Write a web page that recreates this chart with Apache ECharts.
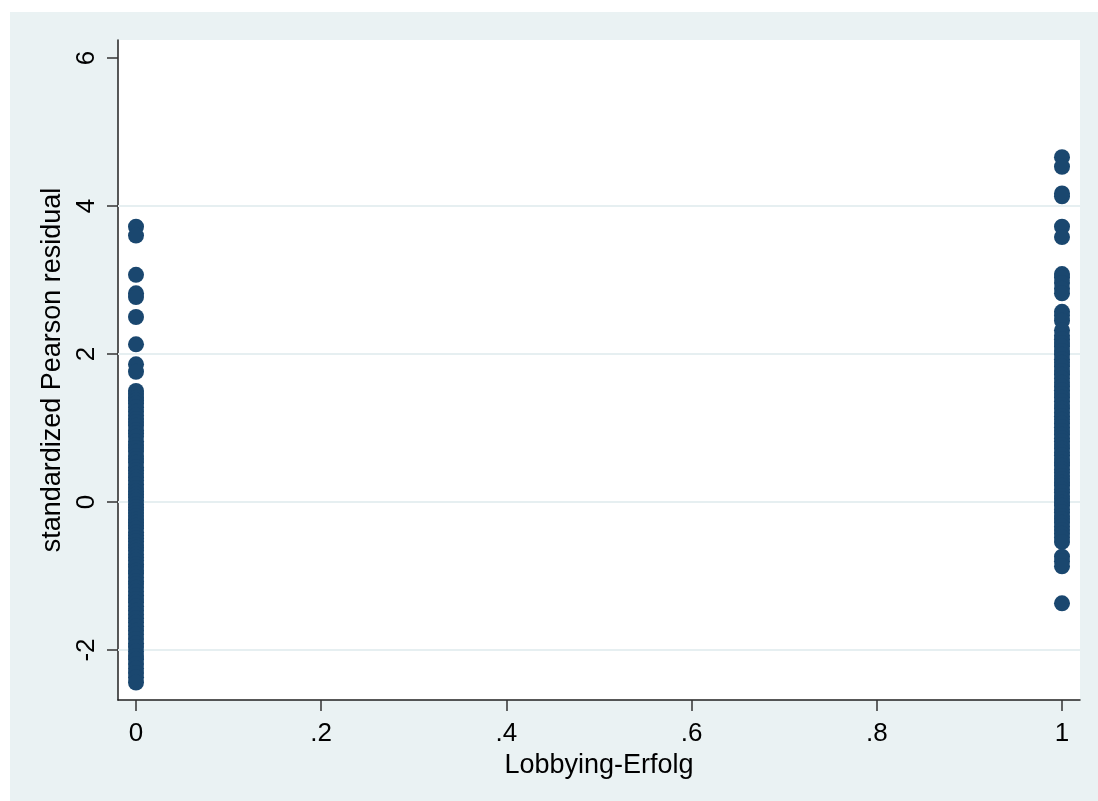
<!DOCTYPE html>
<html>
<head>
<meta charset="utf-8">
<script src="https://cdn.jsdelivr.net/npm/echarts@6/dist/echarts.min.js"></script>
<style>
html,body{margin:0;padding:0;background:#fff;width:1098px;height:801px;overflow:hidden;}
#chart{position:absolute;left:10px;top:12px;width:1088px;height:789px;}
</style>
</head>
<body>
<div id="chart"></div>
<script>
// Lobbying-Erfolg = 0
const residualsAt0 = [3.72, 3.60, 3.07, 2.82, 2.77, 2.50, 2.13, 1.86, 1.76,
  1.50, 1.46, 1.41, 1.37, 1.33, 1.28, 1.22, 1.17, 1.12, 1.08, 1.03, 0.97, 0.93, 0.88, 0.82, 0.77,
  0.73, 0.68, 0.62, 0.58, 0.53, 0.47, 0.43, 0.38, 0.33, 0.29, 0.24, 0.19, 0.14, 0.10, 0.06, 0.02,
  -0.03, -0.07, -0.11, -0.15, -0.19, -0.24, -0.28, -0.32, -0.36, -0.41, -0.45, -0.49, -0.53, -0.58,
  -0.62, -0.66, -0.71, -0.75, -0.79, -0.84, -0.88, -0.93, -0.97, -1.02, -1.07, -1.11, -1.16, -1.21,
  -1.26, -1.31, -1.36, -1.41, -1.47, -1.52, -1.57, -1.63, -1.68, -1.74, -1.79, -1.85, -1.91, -1.96,
  -2.02, -2.08, -2.13, -2.19, -2.25, -2.31, -2.37, -2.44];
// Lobbying-Erfolg = 1
const residualsAt1 = [4.66, 4.53, 4.17, 4.13, 3.72, 3.58, 3.08, 3.03, 2.96, 2.88, 2.82, 2.57, 2.52, 2.45, 2.32,
  2.25, 2.20, 2.15, 2.10, 2.04, 1.99, 1.93, 1.88, 1.83, 1.77, 1.72, 1.67, 1.61, 1.56, 1.51, 1.46,
  1.41, 1.36, 1.31, 1.26, 1.21, 1.16, 1.11, 1.06, 1.01, 0.96, 0.91, 0.86, 0.82, 0.77, 0.72, 0.67,
  0.63, 0.58, 0.53, 0.49, 0.44, 0.40, 0.35, 0.31, 0.26, 0.22, 0.17, 0.13, 0.08, 0.04, -0.01, -0.05,
  -0.10, -0.14, -0.19, -0.23, -0.28, -0.33, -0.38, -0.43, -0.48, -0.54, -0.74, -0.80, -0.87, -1.37];
const xTicks = [0, 0.2, 0.4, 0.6, 0.8, 1];
const xTickLabels = ['0', '.2', '.4', '.6', '.8', '1'];
const yTicks = [-2, 0, 2, 4, 6];
const yGridLines = [-2, 0, 2, 4];

const font = 'Liberation Sans, Arial, sans-serif';
const chart = echarts.init(document.getElementById('chart'));
const pts = [];
residualsAt0.forEach(v => pts.push([0, v]));
residualsAt1.forEach(v => pts.push([1, v]));

chart.setOption({
  backgroundColor: '#EAF2F3',
  animation: false,
  grid: {left: 108, top: 28, right: 18, bottom: 101, show: true, backgroundColor: '#ffffff', borderWidth: 0},
  xAxis: {
    type: 'value', min: -0.01944, max: 1.01944,
    name: 'Lobbying-Erfolg', nameLocation: 'middle', nameGap: 52,
    nameTextStyle: {fontFamily: font, fontSize: 27, color: '#000'},
    axisLine: {show: true, onZero: false, lineStyle: {color: '#222', width: 1.5}},
    axisTick: {show: true, length: 11, customValues: xTicks, lineStyle: {color: '#333', width: 1.5}},
    axisLabel: {customValues: xTicks, margin: 21, fontFamily: font, fontSize: 26, color: '#000',
      formatter: v => { const i = xTicks.findIndex(t => Math.abs(t - v) < 1e-9); return i >= 0 ? xTickLabels[i] : ''; }},
    splitLine: {show: false}
  },
  yAxis: {
    type: 'value', min: -2.676, max: 6.243,
    name: 'standardized Pearson residual', nameLocation: 'middle', nameGap: 46, nameRotate: 90,
    nameTextStyle: {fontFamily: font, fontSize: 27, color: '#000'},
    axisLine: {show: true, onZero: false, lineStyle: {color: '#222', width: 1.5}},
    axisTick: {show: true, length: 11, customValues: yTicks, lineStyle: {color: '#333', width: 1.5}},
    axisLabel: {customValues: yTicks, rotate: 90, margin: 18, fontFamily: font, fontSize: 26, color: '#000'},
    splitLine: {show: false}
  },
  series: [{
    type: 'scatter',
    data: pts,
    symbol: 'circle',
    symbolSize: 16,
    itemStyle: {color: '#1A476F', opacity: 1},
    z: 3,
    markLine: {
      z: 1, silent: true, symbol: 'none', label: {show: false},
      lineStyle: {color: '#E6EFF1', width: 2, type: 'solid'},
      data: yGridLines.map(v => ({yAxis: v}))
    }
  }]
});
</script>
</body>
</html>
